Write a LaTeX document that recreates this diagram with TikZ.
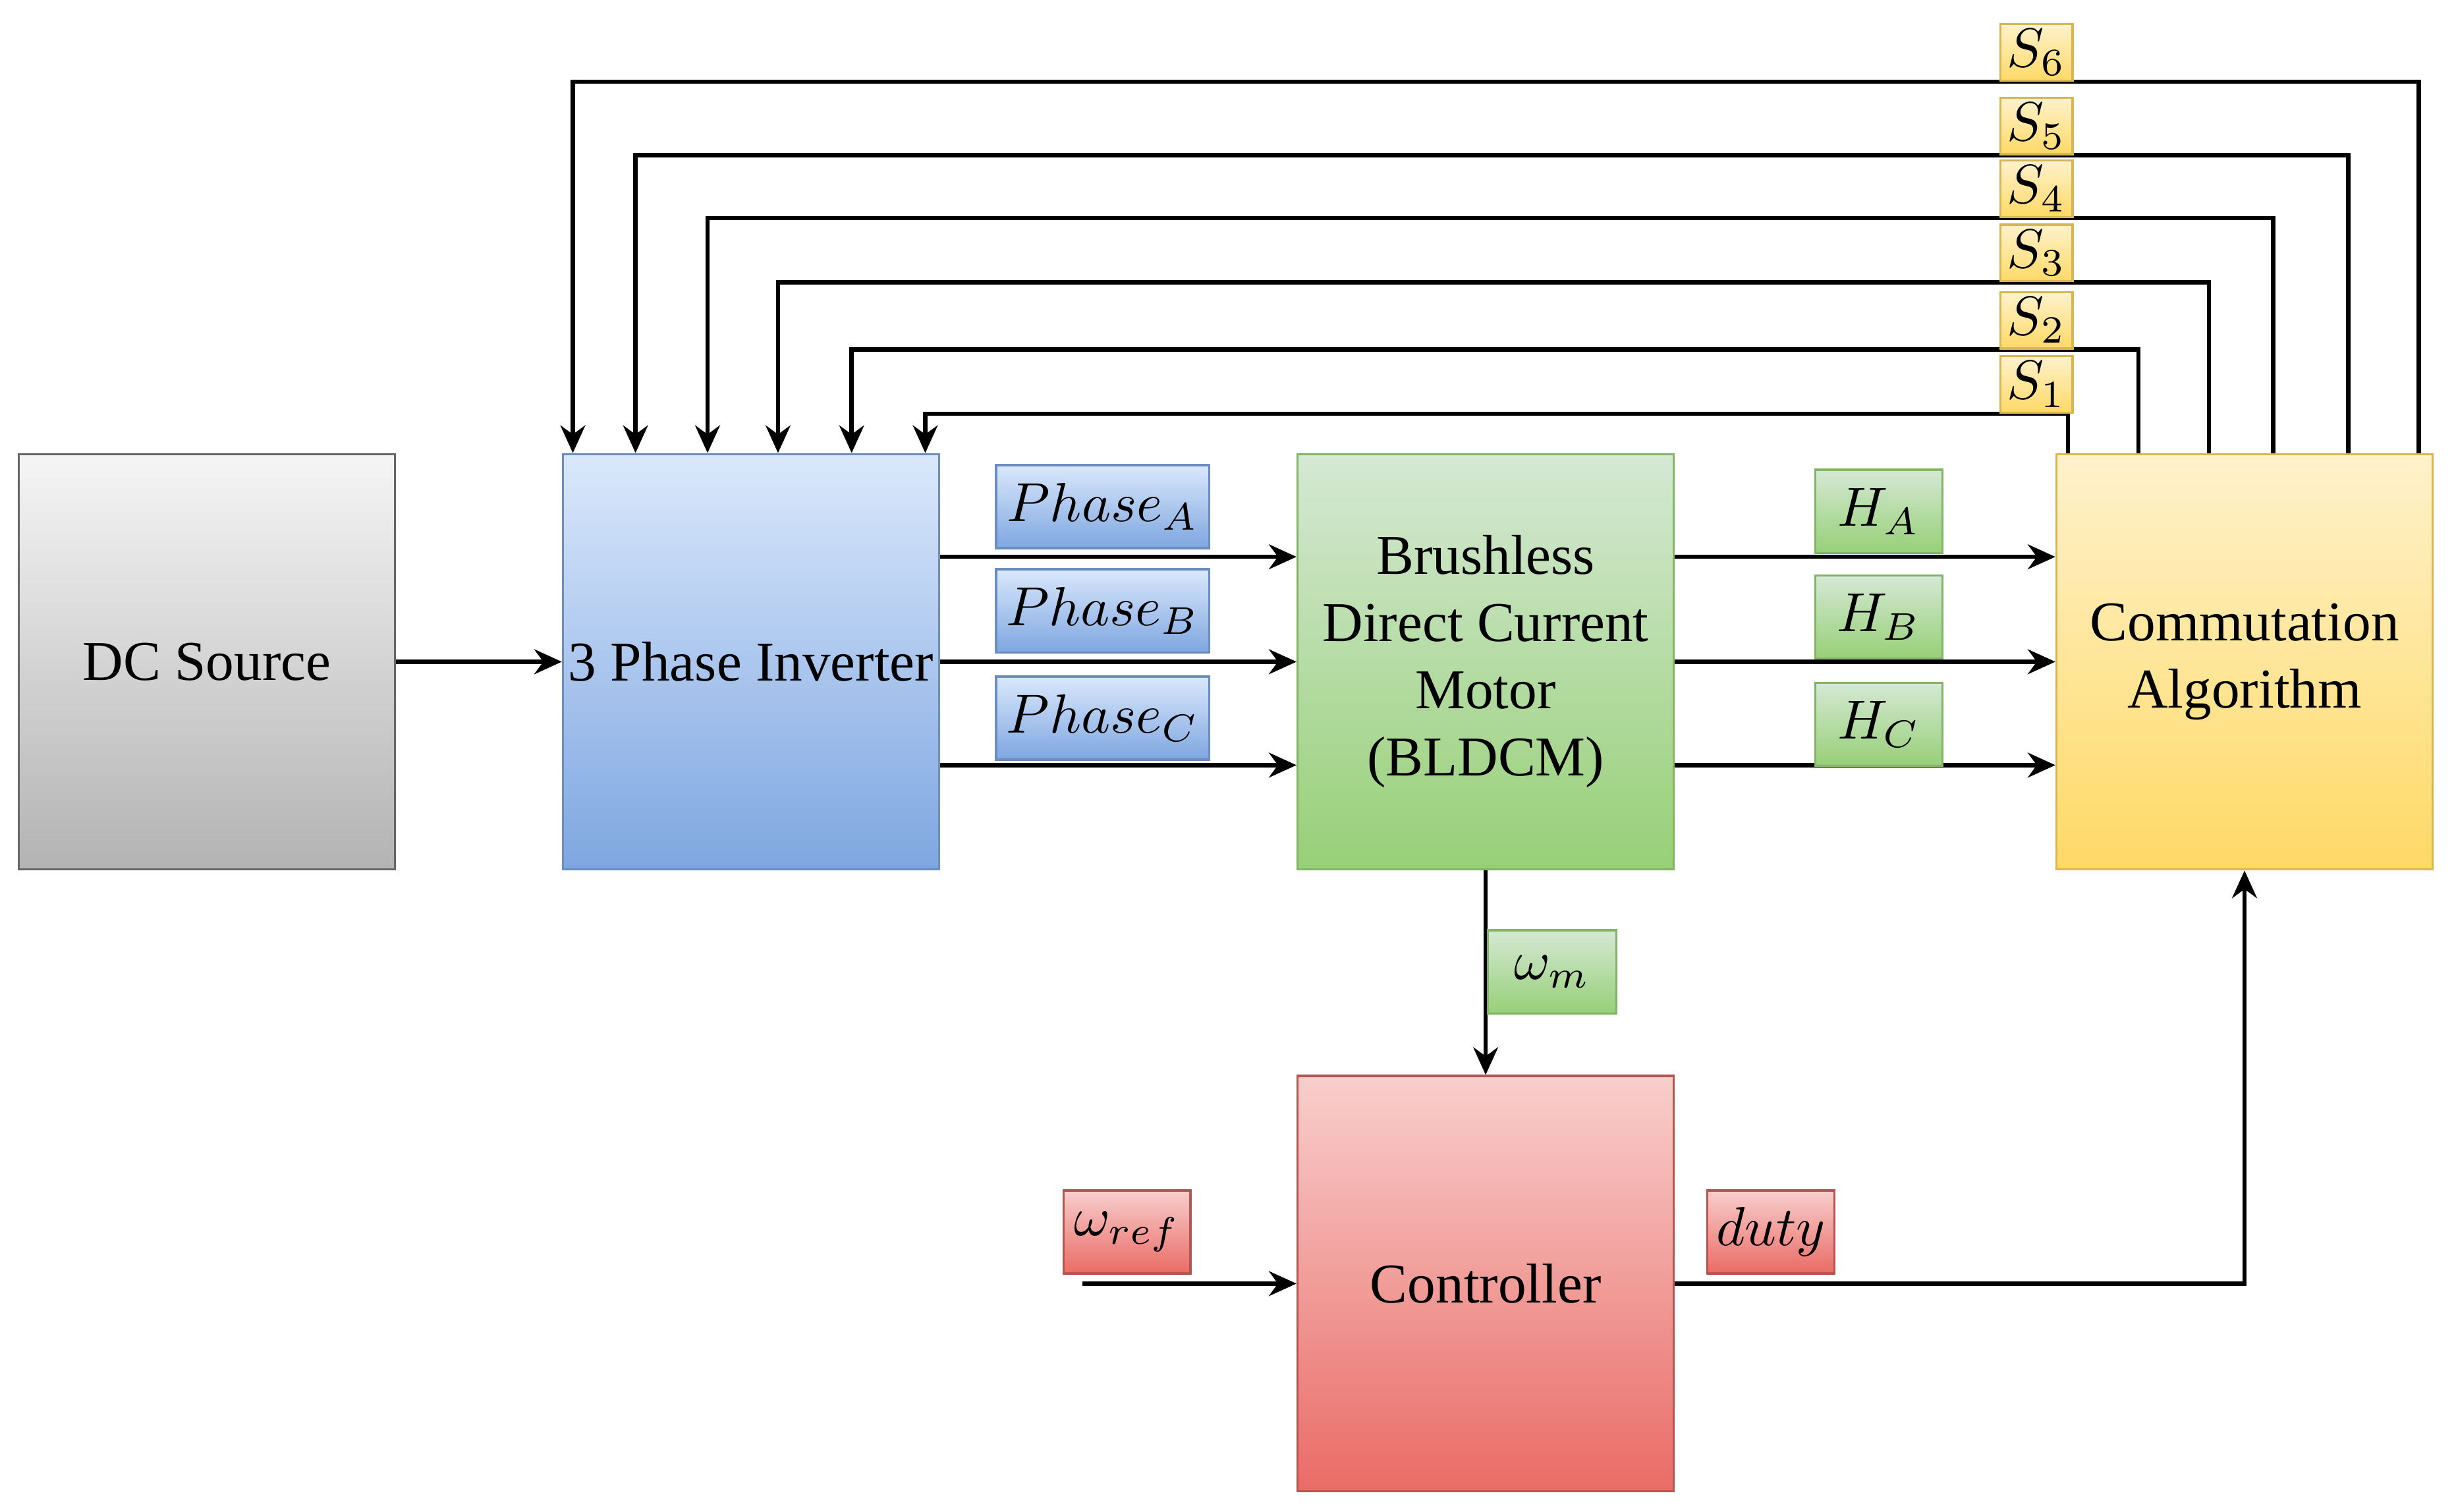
\documentclass[tikz,border=0pt]{standalone}
\usepackage[no-math]{fontspec}
\setmainfont{Liberation Serif}
\usepackage{xcolor}
\usetikzlibrary{calc,arrows.meta}
\definecolor{greytop}{HTML}{F5F5F5}\definecolor{greybot}{HTML}{B3B3B3}\definecolor{greyline}{HTML}{666666}
\definecolor{bluetop}{HTML}{DAE8FC}\definecolor{bluebot}{HTML}{7EA6E0}\definecolor{blueline}{HTML}{6C8EBF}
\definecolor{greentop}{HTML}{D5E8D4}\definecolor{greenbot}{HTML}{97D077}\definecolor{greenline}{HTML}{82B366}
\definecolor{yellowtop}{HTML}{FFF2CC}\definecolor{yellowbot}{HTML}{FFD966}\definecolor{yellowline}{HTML}{D6B656}
\definecolor{redtop}{HTML}{F8CECC}\definecolor{redbot}{HTML}{EA6B66}\definecolor{redline}{HTML}{B85450}

\begin{document}
\begin{tikzpicture}[x=0.01cm,y=0.01cm,
    every node/.style={font=\fontsize{10.2}{12.2}\selectfont},
    block/.style={rectangle,minimum width=2.4cm,minimum height=2.65cm,align=center,inner sep=0pt,line width=0.4pt},
    lbl/.style={rectangle,minimum height=0.53cm,inner sep=0pt,line width=0.4pt},
    fillgrey/.style={draw=greyline,top color=greytop,bottom color=greybot},
    fillblue/.style={draw=blueline,top color=bluetop,bottom color=bluebot},
    fillgreen/.style={draw=greenline,top color=greentop,bottom color=greenbot},
    fillyellow/.style={draw=yellowline,top color=yellowtop,bottom color=yellowbot},
    fillred/.style={draw=redline,top color=redtop,bottom color=redbot},
    sig/.style={line width=0.8pt,-{Stealth[length=5pt,width=4.5pt]}}]
			\useasboundingbox (0,0) rectangle (1568,965);
			\node[block,fillgrey] (src) at (132,542.5) {DC Source};
			\node[block,fillblue] (inv) at (479.5,542.5) {3 Phase Inverter};
			\node[block,fillgreen] (bldc) at (948.5,542.5) {Brushless\\Direct Current\\Motor\\(BLDCM)};
			\node[block,fillyellow] (comm) at (1433,542.5) {Commutation\\Algorithm};
			\node[block,fillred] (ctrl) at (948.5,145.5) {Controller};
			\coordinate (wref) at (691,145.5);
			\draw[sig] (src) -- (inv);
			\foreach \dy in {67,0,-66}{
				\draw[sig] ($(inv.east)+(0,\dy)$) -- ($(bldc.west)+(0,\dy)$);
				\draw[sig] ($(bldc.east)+(0,\dy)$) -- ($(comm.west)+(0,\dy)$);
			}
			\foreach \i/\a/\b/\h in {1/8/232/25,2/53/185/66,3/98/138/109,4/139/93/150,5/187/47/190,6/232/7/237}{
				\draw[sig] ($(comm.north west)+(\a,0)$) |- ($(inv.north west)+(\b,\h)$) -- ($(inv.north west)+(\b,0)$);
				\node[lbl,fillyellow,minimum width=0.46cm,minimum height=0.36cm,anchor=south] (s\i) at ($(comm.north west)+(-12,\h)$) {$S_\i$};
			}
			\draw[sig] (bldc) -- (ctrl);
			\draw[sig] (wref) -- (ctrl.west);
			\draw[sig] (ctrl.east) -| (comm.south);
			\node[lbl,fillblue,minimum width=1.36cm] (pha) at (704,641.5) {$Phase_A$};
			\node[lbl,fillblue,minimum width=1.36cm] (phb) at (704,575) {$Phase_B$};
			\node[lbl,fillblue,minimum width=1.36cm] (phc) at (704,506.5) {$Phase_C$};
			\node[lbl,fillgreen,minimum width=0.81cm] (ha) at (1199.5,638.5) {$H_A$};
			\node[lbl,fillgreen,minimum width=0.81cm] (hb) at (1199.5,571) {$H_B$};
			\node[lbl,fillgreen,minimum width=0.81cm] (hc) at (1199.5,502.5) {$H_C$};
			\node[lbl,fillgreen,minimum width=0.82cm] (wm) at (991,344.5) {$\omega_m$};
			\node[lbl,fillred,minimum width=0.81cm] (wr) at (719.5,178.5) {$\omega_{ref}$};
			\node[lbl,fillred,minimum width=0.81cm] (duty) at (1130.5,178.5) {$duty$};
		\end{tikzpicture}
\end{document}
